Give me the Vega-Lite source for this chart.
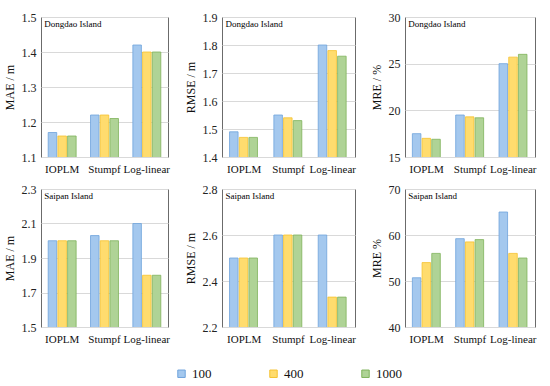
{
  "$schema": "https://vega.github.io/schema/vega-lite/v6.json",
  "background": "white",
  "padding": {"left": 2, "top": 10, "right": 5, "bottom": 5},
  "datasets": {
    "d": [
      {"panel": "p1", "method": "IOPLM", "size": "100", "value": 1.17},
      {"panel": "p1", "method": "IOPLM", "size": "400", "value": 1.16},
      {"panel": "p1", "method": "IOPLM", "size": "1000", "value": 1.16},
      {"panel": "p1", "method": "Stumpf", "size": "100", "value": 1.22},
      {"panel": "p1", "method": "Stumpf", "size": "400", "value": 1.22},
      {"panel": "p1", "method": "Stumpf", "size": "1000", "value": 1.21},
      {"panel": "p1", "method": "Log-linear", "size": "100", "value": 1.42},
      {"panel": "p1", "method": "Log-linear", "size": "400", "value": 1.40},
      {"panel": "p1", "method": "Log-linear", "size": "1000", "value": 1.40},
      {"panel": "p2", "method": "IOPLM", "size": "100", "value": 1.49},
      {"panel": "p2", "method": "IOPLM", "size": "400", "value": 1.47},
      {"panel": "p2", "method": "IOPLM", "size": "1000", "value": 1.47},
      {"panel": "p2", "method": "Stumpf", "size": "100", "value": 1.55},
      {"panel": "p2", "method": "Stumpf", "size": "400", "value": 1.54},
      {"panel": "p2", "method": "Stumpf", "size": "1000", "value": 1.53},
      {"panel": "p2", "method": "Log-linear", "size": "100", "value": 1.80},
      {"panel": "p2", "method": "Log-linear", "size": "400", "value": 1.78},
      {"panel": "p2", "method": "Log-linear", "size": "1000", "value": 1.76},
      {"panel": "p3", "method": "IOPLM", "size": "100", "value": 17.5},
      {"panel": "p3", "method": "IOPLM", "size": "400", "value": 17.0},
      {"panel": "p3", "method": "IOPLM", "size": "1000", "value": 16.9},
      {"panel": "p3", "method": "Stumpf", "size": "100", "value": 19.5},
      {"panel": "p3", "method": "Stumpf", "size": "400", "value": 19.3},
      {"panel": "p3", "method": "Stumpf", "size": "1000", "value": 19.2},
      {"panel": "p3", "method": "Log-linear", "size": "100", "value": 25.0},
      {"panel": "p3", "method": "Log-linear", "size": "400", "value": 25.7},
      {"panel": "p3", "method": "Log-linear", "size": "1000", "value": 26.0},
      {"panel": "p4", "method": "IOPLM", "size": "100", "value": 2.0},
      {"panel": "p4", "method": "IOPLM", "size": "400", "value": 2.0},
      {"panel": "p4", "method": "IOPLM", "size": "1000", "value": 2.0},
      {"panel": "p4", "method": "Stumpf", "size": "100", "value": 2.03},
      {"panel": "p4", "method": "Stumpf", "size": "400", "value": 2.0},
      {"panel": "p4", "method": "Stumpf", "size": "1000", "value": 2.0},
      {"panel": "p4", "method": "Log-linear", "size": "100", "value": 2.1},
      {"panel": "p4", "method": "Log-linear", "size": "400", "value": 1.8},
      {"panel": "p4", "method": "Log-linear", "size": "1000", "value": 1.8},
      {"panel": "p5", "method": "IOPLM", "size": "100", "value": 2.5},
      {"panel": "p5", "method": "IOPLM", "size": "400", "value": 2.5},
      {"panel": "p5", "method": "IOPLM", "size": "1000", "value": 2.5},
      {"panel": "p5", "method": "Stumpf", "size": "100", "value": 2.6},
      {"panel": "p5", "method": "Stumpf", "size": "400", "value": 2.6},
      {"panel": "p5", "method": "Stumpf", "size": "1000", "value": 2.6},
      {"panel": "p5", "method": "Log-linear", "size": "100", "value": 2.6},
      {"panel": "p5", "method": "Log-linear", "size": "400", "value": 2.33},
      {"panel": "p5", "method": "Log-linear", "size": "1000", "value": 2.33},
      {"panel": "p6", "method": "IOPLM", "size": "100", "value": 50.7},
      {"panel": "p6", "method": "IOPLM", "size": "400", "value": 54.0},
      {"panel": "p6", "method": "IOPLM", "size": "1000", "value": 56.0},
      {"panel": "p6", "method": "Stumpf", "size": "100", "value": 59.2},
      {"panel": "p6", "method": "Stumpf", "size": "400", "value": 58.5},
      {"panel": "p6", "method": "Stumpf", "size": "1000", "value": 59.0},
      {"panel": "p6", "method": "Log-linear", "size": "100", "value": 65.0},
      {"panel": "p6", "method": "Log-linear", "size": "400", "value": 56.0},
      {"panel": "p6", "method": "Log-linear", "size": "1000", "value": 55.0}
    ]
  },
  "columns": 3,
  "spacing": {"row": 7, "column": 12},
  "concat": [
    {
      "width": 127, "height": 140,
      "layer": [
        {
          "data": {"name": "d"},
          "transform": [{"filter": "datum.panel === 'p1'"}],
          "mark": {"type": "bar", "strokeWidth": 0.8, "clip": true},
          "encoding": {
            "x": {"field": "method", "type": "nominal", "sort": ["IOPLM", "Stumpf", "Log-linear"], "scale": {"paddingInner": 0.34, "paddingOuter": 0.17}, "axis": {"title": null}},
            "xOffset": {"field": "size", "type": "nominal", "sort": ["100", "400", "1000"], "scale": {"paddingInner": 0.12}},
            "y": {"field": "value", "type": "quantitative", "scale": {"domain": [1.1, 1.5], "zero": false, "nice": false}, "axis": {"title": "MAE / m", "values": [1.1, 1.2, 1.3, 1.4, 1.5], "tickCount": 12, "format": ".1f"}},
            "color": {"field": "size", "type": "nominal", "sort": ["100", "400", "1000"], "scale": {"domain": ["100", "400", "1000"], "range": ["#a4c8ee", "#ffdc6e", "#afd396"]}, "legend": {"title": null}},
            "stroke": {"field": "size", "type": "nominal", "sort": ["100", "400", "1000"], "scale": {"domain": ["100", "400", "1000"], "range": ["#6fa3dc", "#f5c230", "#7fb25a"]}, "legend": {"title": null}}
          }
        },
        {
          "data": {"values": [{"label": "Dongdao Island"}]},
          "mark": {"type": "text", "align": "left", "baseline": "top", "dx": -4, "dy": 3, "font": "Liberation Serif", "fontSize": 9, "color": "#000"},
          "encoding": {"text": {"field": "label"}, "x": {"datum": "IOPLM", "bandPosition": 0}, "y": {"datum": 1.5}}
        }
      ]
    },
    {
      "width": 133, "height": 140,
      "layer": [
        {
          "data": {"name": "d"},
          "transform": [{"filter": "datum.panel === 'p2'"}],
          "mark": {"type": "bar", "strokeWidth": 0.8, "clip": true},
          "encoding": {
            "x": {"field": "method", "type": "nominal", "sort": ["IOPLM", "Stumpf", "Log-linear"], "scale": {"paddingInner": 0.34, "paddingOuter": 0.17}, "axis": {"title": null}},
            "xOffset": {"field": "size", "type": "nominal", "sort": ["100", "400", "1000"], "scale": {"paddingInner": 0.12}},
            "y": {"field": "value", "type": "quantitative", "scale": {"domain": [1.4, 1.9], "zero": false, "nice": false}, "axis": {"title": "RMSE / m", "values": [1.4, 1.5, 1.6, 1.7, 1.8, 1.9], "tickCount": 12, "format": ".1f"}},
            "color": {"field": "size", "type": "nominal", "sort": ["100", "400", "1000"], "legend": {"title": null}},
            "stroke": {"field": "size", "type": "nominal", "sort": ["100", "400", "1000"], "legend": {"title": null}}
          }
        },
        {
          "data": {"values": [{"label": "Dongdao Island"}]},
          "mark": {"type": "text", "align": "left", "baseline": "top", "dx": -4, "dy": 3, "font": "Liberation Serif", "fontSize": 9, "color": "#000"},
          "encoding": {"text": {"field": "label"}, "x": {"datum": "IOPLM", "bandPosition": 0}, "y": {"datum": 1.9}}
        }
      ]
    },
    {
      "width": 130, "height": 140,
      "layer": [
        {
          "data": {"name": "d"},
          "transform": [{"filter": "datum.panel === 'p3'"}],
          "mark": {"type": "bar", "strokeWidth": 0.8, "clip": true},
          "encoding": {
            "x": {"field": "method", "type": "nominal", "sort": ["IOPLM", "Stumpf", "Log-linear"], "scale": {"paddingInner": 0.34, "paddingOuter": 0.17}, "axis": {"title": null}},
            "xOffset": {"field": "size", "type": "nominal", "sort": ["100", "400", "1000"], "scale": {"paddingInner": 0.12}},
            "y": {"field": "value", "type": "quantitative", "scale": {"domain": [15, 30], "zero": false, "nice": false}, "axis": {"title": "MRE / %", "values": [15, 20, 25, 30], "tickCount": 12, "format": "d"}},
            "color": {"field": "size", "type": "nominal", "sort": ["100", "400", "1000"], "legend": {"title": null}},
            "stroke": {"field": "size", "type": "nominal", "sort": ["100", "400", "1000"], "legend": {"title": null}}
          }
        },
        {
          "data": {"values": [{"label": "Dongdao Island"}]},
          "mark": {"type": "text", "align": "left", "baseline": "top", "dx": -4, "dy": 3, "font": "Liberation Serif", "fontSize": 9, "color": "#000"},
          "encoding": {"text": {"field": "label"}, "x": {"datum": "IOPLM", "bandPosition": 0}, "y": {"datum": 30}}
        }
      ]
    },
    {
      "width": 127, "height": 138,
      "layer": [
        {
          "data": {"name": "d"},
          "transform": [{"filter": "datum.panel === 'p4'"}],
          "mark": {"type": "bar", "strokeWidth": 0.8, "clip": true},
          "encoding": {
            "x": {"field": "method", "type": "nominal", "sort": ["IOPLM", "Stumpf", "Log-linear"], "scale": {"paddingInner": 0.34, "paddingOuter": 0.17}, "axis": {"title": null}},
            "xOffset": {"field": "size", "type": "nominal", "sort": ["100", "400", "1000"], "scale": {"paddingInner": 0.12}},
            "y": {"field": "value", "type": "quantitative", "scale": {"domain": [1.5, 2.3], "zero": false, "nice": false}, "axis": {"title": "MAE / m", "values": [1.5, 1.7, 1.9, 2.1, 2.3], "tickCount": 12, "format": ".1f"}},
            "color": {"field": "size", "type": "nominal", "sort": ["100", "400", "1000"], "legend": {"title": null}},
            "stroke": {"field": "size", "type": "nominal", "sort": ["100", "400", "1000"], "legend": {"title": null}}
          }
        },
        {
          "data": {"values": [{"label": "Saipan Island"}]},
          "mark": {"type": "text", "align": "left", "baseline": "top", "dx": -4, "dy": 3, "font": "Liberation Serif", "fontSize": 9, "color": "#000"},
          "encoding": {"text": {"field": "label"}, "x": {"datum": "IOPLM", "bandPosition": 0}, "y": {"datum": 2.3}}
        }
      ]
    },
    {
      "width": 133, "height": 138,
      "layer": [
        {
          "data": {"name": "d"},
          "transform": [{"filter": "datum.panel === 'p5'"}],
          "mark": {"type": "bar", "strokeWidth": 0.8, "clip": true},
          "encoding": {
            "x": {"field": "method", "type": "nominal", "sort": ["IOPLM", "Stumpf", "Log-linear"], "scale": {"paddingInner": 0.34, "paddingOuter": 0.17}, "axis": {"title": null}},
            "xOffset": {"field": "size", "type": "nominal", "sort": ["100", "400", "1000"], "scale": {"paddingInner": 0.12}},
            "y": {"field": "value", "type": "quantitative", "scale": {"domain": [2.2, 2.8], "zero": false, "nice": false}, "axis": {"title": "RMSE / m", "values": [2.2, 2.4, 2.6, 2.8], "tickCount": 12, "format": ".1f"}},
            "color": {"field": "size", "type": "nominal", "sort": ["100", "400", "1000"], "legend": {"title": null}},
            "stroke": {"field": "size", "type": "nominal", "sort": ["100", "400", "1000"], "legend": {"title": null}}
          }
        },
        {
          "data": {"values": [{"label": "Saipan Island"}]},
          "mark": {"type": "text", "align": "left", "baseline": "top", "dx": -4, "dy": 3, "font": "Liberation Serif", "fontSize": 9, "color": "#000"},
          "encoding": {"text": {"field": "label"}, "x": {"datum": "IOPLM", "bandPosition": 0}, "y": {"datum": 2.8}}
        }
      ]
    },
    {
      "width": 130, "height": 138,
      "layer": [
        {
          "data": {"name": "d"},
          "transform": [{"filter": "datum.panel === 'p6'"}],
          "mark": {"type": "bar", "strokeWidth": 0.8, "clip": true},
          "encoding": {
            "x": {"field": "method", "type": "nominal", "sort": ["IOPLM", "Stumpf", "Log-linear"], "scale": {"paddingInner": 0.34, "paddingOuter": 0.17}, "axis": {"title": null}},
            "xOffset": {"field": "size", "type": "nominal", "sort": ["100", "400", "1000"], "scale": {"paddingInner": 0.12}},
            "y": {"field": "value", "type": "quantitative", "scale": {"domain": [40, 70], "zero": false, "nice": false}, "axis": {"title": "MRE %", "values": [40, 50, 60, 70], "tickCount": 12, "format": "d"}},
            "color": {"field": "size", "type": "nominal", "sort": ["100", "400", "1000"], "legend": {"title": null}},
            "stroke": {"field": "size", "type": "nominal", "sort": ["100", "400", "1000"], "legend": {"title": null}}
          }
        },
        {
          "data": {"values": [{"label": "Saipan Island"}]},
          "mark": {"type": "text", "align": "left", "baseline": "top", "dx": -4, "dy": 3, "font": "Liberation Serif", "fontSize": 9, "color": "#000"},
          "encoding": {"text": {"field": "label"}, "x": {"datum": "IOPLM", "bandPosition": 0}, "y": {"datum": 70}}
        }
      ]
    }
  ],
  "config": {
    "font": "Liberation Serif",
    "view": {"stroke": "#6b6b6b", "strokeWidth": 1},
    "axisX": {"domain": false, "ticks": false, "grid": false, "labelAngle": 0, "labelFont": "Liberation Serif", "labelFontSize": 11, "labelColor": "#111", "labelPadding": 6, "labelOverlap": false},
    "axisY": {"domain": false, "ticks": false, "grid": true, "gridColor": "#d9d9d9", "gridWidth": 1, "labelFont": "Liberation Serif", "labelFontSize": 12, "labelColor": "#222", "labelPadding": 5, "labelOverlap": false, "labelBound": false, "labelFlush": false, "titleFont": "Liberation Serif", "titleFontSize": 12, "titleFontWeight": "normal", "titleColor": "#111", "titlePadding": 5},
    "legend": {"orient": "none", "legendX": 134, "legendY": 350, "padding": 0, "direction": "horizontal", "symbolType": "square", "symbolSize": 55, "symbolStrokeWidth": 1, "labelFont": "Liberation Serif", "labelFontSize": 13, "labelColor": "#111", "columnPadding": 55}
  }
}
